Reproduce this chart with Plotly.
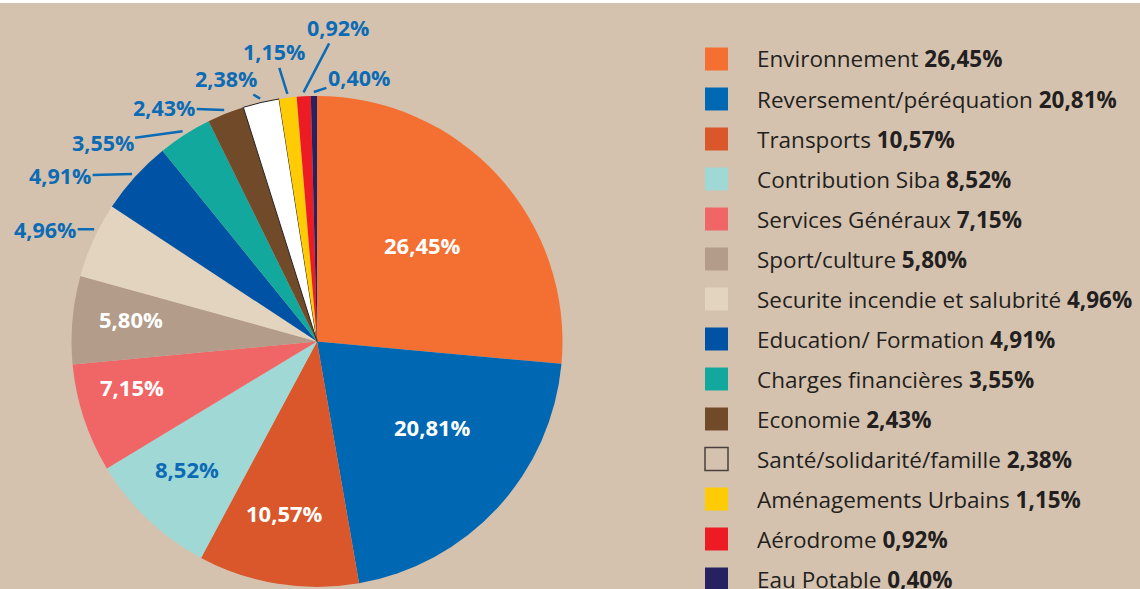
import math
import plotly.graph_objects as go

# ---------------- data ----------------
categories = [
    "Environnement", "Reversement/péréquation", "Transports", "Contribution Siba",
    "Services Généraux", "Sport/culture", "Securite incendie et salubrité",
    "Education/ Formation", "Charges financières", "Economie",
    "Santé/solidarité/famille", "Aménagements Urbains", "Aérodrome", "Eau Potable",
]
values = [26.45, 20.81, 10.57, 8.52, 7.15, 5.80, 4.96, 4.91, 3.55, 2.43, 2.38, 1.15, 0.92, 0.40]

# ---------------- style ----------------
colors = ["#F37032", "#0068B3", "#D9572A", "#A0D8D5", "#F06667", "#B39C8A", "#E3D4C0",
          "#0053A4", "#12A89D", "#714B29", "#FFFFFF", "#FFCB05", "#ED1C24", "#262262"]
BG = "#D5C2AE"
BLUE = "#0C6BB5"
DARK = "#231F20"
FONT = "Open Sans"
W, H = 1140, 589
CX, CY, R = 317, 341.5, 245.5          # pie centre/radius in px (from top-left)
N_INSIDE = 6                          # first slices labelled inside
inside_colors = ["white", "white", "white", BLUE, "white", "white"]
# inside label placement: (fraction across the slice angle, fraction of radius)
inside_pos = [(0.50, 0.584), (0.419, 0.584), (0.537, 0.711), (0.566, 0.742), (0.667, 0.776), (0.595, 0.765)]
# outside labels: fraction across the slice where the leader line ends, and text offset (px)
tip_frac = [0.63, 0.5, 0.5, 0.5, 0.5, 0.5, 0.5, 0.5]
label_offsets = [(-49, 0), (-72, 2), (-80, 11), (-60, -2), (-34, -20), (-13, -42), (34, -65), (45, -15)]

def fmt(v):
    return f"{v:.2f}".replace(".", ",") + "%"

texts = [fmt(v) for v in values]

fig = go.Figure()
fig.add_trace(go.Pie(
    labels=categories,
    values=values,
    textinfo="none",
    marker=dict(colors=colors,
                line=dict(color=[DARK if c == "#FFFFFF" else "rgba(0,0,0,0)" for c in colors],
                          width=[1 if c == "#FFFFFF" else 0 for c in colors])),
    sort=False,
    direction="clockwise",
    rotation=0,
    showlegend=False,
    hoverinfo="label+percent",
    domain=dict(x=[(CX - R) / W, (CX + R) / W],
                y=[(H - CY - R) / H, (H - CY + R) / H]),
))

annotations = []
total = sum(values)
cum = 0.0
for i, v in enumerate(values):
    a0 = cum / total
    a1 = (cum + v) / total
    cum += v
    if i < N_INSIDE:
        t, rf = inside_pos[i]
        th = 2 * math.pi * (a0 + t * (a1 - a0))
        px = CX + math.sin(th) * R * rf
        py = CY - math.cos(th) * R * rf
        annotations.append(dict(
            x=px / W, y=1 - py / H, xref="paper", yref="paper", showarrow=False,
            text=f"<b>{texts[i]}</b>", font=dict(family=FONT, size=22, color=inside_colors[i]),
            xanchor="center", yanchor="middle",
        ))
        continue
    k = i - N_INSIDE
    th = 2 * math.pi * (a0 + tip_frac[k] * (a1 - a0))
    rr = R + 4
    tx = CX + math.sin(th) * rr
    ty = CY - math.cos(th) * rr
    ax, ay = label_offsets[k]
    annotations.append(dict(
        x=tx / W, y=1 - ty / H, xref="paper", yref="paper",
        ax=ax, ay=ay, showarrow=True, arrowhead=0, arrowwidth=2.5, arrowcolor=BLUE,
        text=f"<b>{texts[i]}</b>", font=dict(family=FONT, size=21.5, color=BLUE),
        xanchor="center", yanchor="middle", standoff=0,
    ))

# legend (manual)
shapes = [dict(type="rect", xref="paper", yref="paper", x0=0, x1=1,
               y0=1 - 3 / H, y1=1, fillcolor="white", line=dict(width=0), layer="below")]
LX0, LSQ, LTX, LY0, LDY = 705, 23, 755, 59, 40
for i, (c, v) in enumerate(zip(categories, values)):
    yc = LY0 + i * LDY
    is_white = colors[i] == "#FFFFFF"
    shapes.append(dict(
        type="rect", xref="paper", yref="paper",
        x0=LX0 / W, x1=(LX0 + LSQ) / W,
        y0=1 - (yc + LSQ / 2) / H, y1=1 - (yc - LSQ / 2) / H,
        fillcolor=BG if is_white else colors[i],
        line=dict(color="#4A4040" if is_white else colors[i], width=1.5 if is_white else 0),
    ))
    annotations.append(dict(
        x=LTX / W, y=1 - yc / H, xref="paper", yref="paper",
        text=f"{c} <b>{fmt(v)}</b>", showarrow=False,
        xanchor="left", yanchor="middle",
        font=dict(family=FONT, size=22.5, color=DARK),
    ))

fig.update_layout(
    width=W, height=H,
    margin=dict(l=0, r=0, t=0, b=0),
    paper_bgcolor=BG, plot_bgcolor=BG,
    shapes=shapes, annotations=annotations,
)
fig.write_html("out.html", config={"displayModeBar": False},
               post_script="document.body.style.margin='0';document.body.style.overflow='hidden';")
